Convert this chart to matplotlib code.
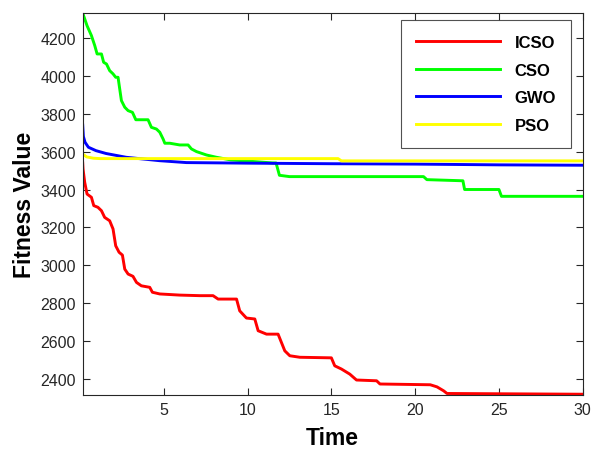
import matplotlib
matplotlib.use("Agg")
import matplotlib.pyplot as plt

plt.rcParams['font.family'] = ['Liberation Sans', 'DejaVu Sans']

# ICSO
icso_t = [0.16, 0.18, 0.28, 0.42, 0.68, 0.82, 1.07, 1.28, 1.47, 1.77, 1.97, 2.13, 2.33, 2.53,
          2.67, 2.87, 3.16, 3.37, 3.66, 4.16, 4.32, 4.76, 5.95, 7.15, 7.94, 8.24, 9.34, 9.53,
          9.93, 10.43, 10.63, 11.13, 11.82, 12.22, 12.52, 13.12, 15.0, 15.2, 15.6, 16.1, 16.5,
          17.7, 17.9, 20.9, 21.3, 21.7, 21.9, 30.0]
icso_v = [3540, 3508, 3438, 3376, 3359, 3315, 3306, 3288, 3253, 3235, 3192, 3103, 3069, 3054,
          2980, 2954, 2942, 2910, 2892, 2884, 2858, 2849, 2843, 2840, 2840, 2822, 2822, 2760,
          2722, 2717, 2655, 2637, 2637, 2549, 2523, 2515, 2512, 2470, 2453, 2426, 2395,
          2391, 2374, 2370, 2359, 2338, 2324, 2320]

# CSO
cso_t = [0.16, 0.42, 0.68, 0.88, 1.02, 1.28, 1.41, 1.58, 1.77, 1.97, 2.13, 2.27, 2.37, 2.47,
         2.67, 2.87, 3.13, 3.33, 4.06, 4.26, 4.56, 4.76, 4.96, 5.06, 5.36, 5.95, 6.45, 6.65,
         6.95, 7.55, 8.14, 9.0, 10.3, 11.5, 11.7, 11.9, 12.5, 20.5, 20.7, 22.85, 22.95, 25.0,
         25.15, 30.0]
cso_v = [4331, 4264, 4212, 4159, 4115, 4115, 4071, 4062, 4027, 4010, 3992, 3992, 3930, 3869,
         3834, 3816, 3807, 3768, 3768, 3728, 3719, 3702, 3666, 3644, 3644, 3635, 3635, 3614,
         3600, 3582, 3570, 3556, 3548, 3540, 3540, 3475, 3468, 3468, 3452, 3446, 3400, 3400,
         3364, 3364]

# GWO
gwo_t = [0.16, 0.2, 0.3, 0.5, 0.95, 1.55, 2.75, 4.75, 6.35, 10.0, 15.0, 20.0, 25.0, 30.0]
gwo_v = [3740, 3680, 3649, 3623, 3605, 3590, 3570, 3552, 3542, 3539, 3536, 3534, 3530, 3528]

# PSO
pso_t = [0.16, 0.4, 0.8, 1.2, 2.0, 15.4, 15.6, 30.0]
pso_v = [3587, 3572, 3565, 3563, 3563, 3563, 3551, 3551]

series = [("ICSO", icso_t, icso_v, (1, 0, 0)),
          ("CSO", cso_t, cso_v, (0, 1, 0)),
          ("GWO", gwo_t, gwo_v, (0, 0, 1)),
          ("PSO", pso_t, pso_v, (1, 1, 0))]

fig = plt.figure(figsize=(6.01, 4.52), dpi=100)
ax = fig.add_axes([0.1376, 0.1239, 0.8320, 0.8451])
for name, t, v, c in series:
    ax.plot(t, v, color=c, lw=2.1, label=name, solid_joinstyle='round')

ax.set_xlim(0.16, 30)
ax.set_ylim(2316, 4331)
ax.set_xticks([5, 10, 15, 20, 25, 30])
ax.set_yticks([2400, 2600, 2800, 3000, 3200, 3400, 3600, 3800, 4000, 4200])
ax.tick_params(direction='in', top=True, right=True, length=5, width=0.8,
               labelsize=11.5, colors='#262626', pad=5)
for sp in ax.spines.values():
    sp.set_color('#262626')
    sp.set_linewidth(0.8)
ax.set_xlabel("Time", fontsize=16.5, fontweight='bold', labelpad=6.5)
ax.set_ylabel("Fitness Value", fontsize=16.5, fontweight='bold', labelpad=3)

leg = ax.legend(loc='upper right', bbox_to_anchor=(0.977, 0.981), borderaxespad=0,
                fancybox=False, frameon=True, handlelength=5.0, handletextpad=0.9,
                labelspacing=0.75, borderpad=0.9, prop={'weight': 'bold', 'size': 12})
leg.get_frame().set_edgecolor('#262626')
leg.get_frame().set_linewidth(0.8)
for l in leg.get_lines():
    l.set_linewidth(2.1)

fig.savefig("out.png", dpi=100)
